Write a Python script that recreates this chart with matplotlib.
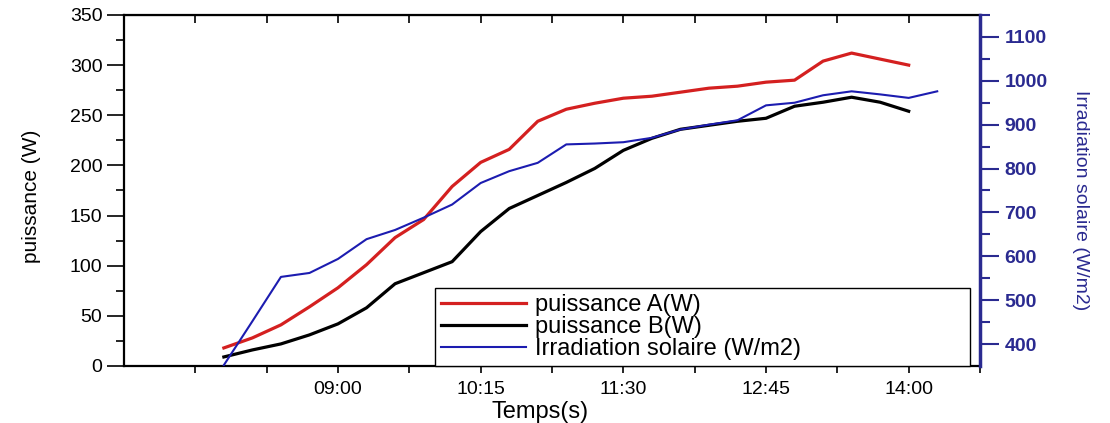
import matplotlib
matplotlib.use("Agg")
import matplotlib.pyplot as plt
from matplotlib.ticker import FixedLocator, FuncFormatter, MultipleLocator

# time in minutes from midnight, one reading every 15 min from 08:00
heures = ["08:00", "08:15", "08:30", "08:45", "09:00", "09:15", "09:30", "09:45",
          "10:00", "10:15", "10:30", "10:45", "11:00", "11:15", "11:30", "11:45",
          "12:00", "12:15", "12:30", "12:45", "13:00", "13:15", "13:30", "13:45",
          "14:00", "14:15"]
puissance_a = [18, 28, 41, 59, 78, 101, 128, 146, 179, 203, 216, 244, 256, 262,
               267, 269, 273, 277, 279, 283, 285, 304, 312, 306, 300]
puissance_b = [9, 16, 22, 31, 42, 58, 82, 93, 104, 134, 157, 170, 183, 197,
               215, 227, 236, 240, 244, 247, 259, 263, 268, 263, 254]
irradiation = [352, 452, 553, 562, 594, 639, 660, 688, 718, 767, 794, 813, 855,
               857, 860, 870, 889, 900, 910, 944, 950, 967, 976, 969, 961, 976]


def to_min(h):
    hh, mm = h.split(":")
    return int(hh) * 60 + int(mm)


t = [to_min(h) for h in heures]
t_p = t[:len(puissance_a)]

navy = "#2a2a90"
font = ["Liberation Sans", "DejaVu Sans"]

fig = plt.figure(figsize=(11.1, 4.23), dpi=100)
ax = fig.add_axes([0.1117, 0.1348, 0.7712, 0.8298])
ax2 = ax.twinx()

l1, = ax.plot(t_p, puissance_a, color="#d42020", lw=2.3, label="puissance A(W)")
l2, = ax.plot(t_p, puissance_b, color="black", lw=2.3, label="puissance B(W)")
l3, = ax2.plot(t, irradiation, color="#1c1cb0", lw=1.5, label="Irradiation solaire (W/m2)")

ax.set_xlim(427.5, 877.5)
ax.set_ylim(0, 350)
ax2.set_ylim(350, 1150)

# x ticks: labelled every 75 min, plus unlabelled ones in between
ax.xaxis.set_major_locator(FixedLocator([540, 615, 690, 765, 840]))
ax.xaxis.set_minor_locator(FixedLocator([465, 502.5, 577.5, 652.5, 727.5, 802.5, 877.5]))
ax.xaxis.set_major_formatter(FuncFormatter(lambda v, p: "%02d:%02d" % (v // 60, v % 60)))
ax.tick_params(axis="x", which="both", direction="out", length=5, width=1.2,
               labelsize=14, pad=6)

top = ax.secondary_xaxis("top")
top.xaxis.set_major_locator(FixedLocator([465, 540, 615, 690, 765, 840]))
top.xaxis.set_minor_locator(FixedLocator([502.5, 577.5, 652.5, 727.5, 802.5]))
top.tick_params(axis="x", which="both", direction="in", length=6, width=1.2,
                labeltop=False)

ax.yaxis.set_major_locator(MultipleLocator(50))
ax.yaxis.set_minor_locator(MultipleLocator(25))
ax.tick_params(axis="y", which="major", direction="out", length=12, width=1.2,
               labelsize=14)
ax.tick_params(axis="y", which="minor", direction="out", length=6, width=1.2)

ax2.yaxis.set_major_locator(FixedLocator(range(400, 1101, 100)))
ax2.yaxis.set_minor_locator(FixedLocator(range(450, 1151, 100)))
ax2.tick_params(axis="y", which="major", direction="out", length=14, width=1.5,
                color=navy, labelcolor=navy, labelsize=14)
ax2.tick_params(axis="y", which="minor", direction="out", length=7, width=1.5,
                color=navy)

for lab in ax.get_xticklabels() + ax.get_yticklabels():
    lab.set_family(font)
for lab in ax2.get_yticklabels():
    lab.set_family(font)
    lab.set_fontweight("bold")

for s in ["left", "bottom", "top"]:
    ax.spines[s].set_linewidth(1.6)
ax2.spines["right"].set_color(navy)
ax2.spines["right"].set_linewidth(2.5)
ax2.spines["left"].set_visible(False)
ax2.spines["top"].set_visible(False)
ax2.spines["bottom"].set_visible(False)

ax.set_xlabel("Temps(s)", fontsize=17, family=font)
ax.xaxis.set_label_coords(0.486, -0.10)
ax.set_ylabel("puissance (W)", fontsize=15, family=font)
ax.yaxis.set_label_coords(-0.097, 0.484)
ax2.set_ylabel("Irradiation solaire (W/m2)", fontsize=14, family=font,
               color=navy, rotation=270)
ax2.yaxis.set_label_coords(1.127, 0.473)

leg = ax2.legend(handles=[l1, l2, l3], loc="lower left",
                 bbox_to_anchor=(0.363, 0.0, 0.625, 0.236), mode="expand",
                 borderaxespad=0, fancybox=False, framealpha=1, edgecolor="black",
                 prop={"family": font, "size": 17}, handlelength=3.6,
                 handletextpad=0.4, labelspacing=0.0, borderpad=0.25)
leg.get_frame().set_linewidth(1.0)

fig.savefig("out.png", dpi=100)
